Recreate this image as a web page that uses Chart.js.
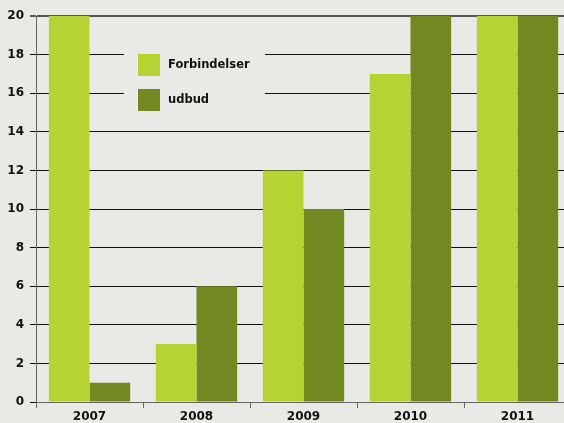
<!DOCTYPE html>
<html>
<head>
<meta charset="utf-8">
<script src="https://cdn.jsdelivr.net/npm/chart.js@4.4.0/dist/chart.umd.min.js"></script>
<style>
    html, body { margin: 0; padding: 0; background: #e9eae5; overflow: hidden; }
    #wrap { width: 571px; height: 423px; }
</style>
</head>
<body>
<div id="wrap"><canvas id="chart"></canvas></div>
<script>
const years = ['2007', '2008', '2009', '2010', '2011']
const forbindelser = [20, 3, 12, 17, 20]
const udbud = [1, 6, 10, 20, 20]
const yTicks = [0, 2, 4, 6, 8, 10, 12, 14, 16, 18, 20]

const bg = '#e9eae5'
const lightGreen = '#b6d334'
const darkGreen = '#728820'
const fontFamily = '"DejaVu Sans", "Liberation Sans", sans-serif'

// legend drawn inside the plot, on a patch of background that hides the grid
const insideLegend = {
    id: 'insideLegend',
    beforeDatasetsDraw(chart) {
        const ctx = chart.ctx
        const items = chart.data.datasets.map(ds => ({ text: ds.label, color: ds.backgroundColor }))
        const x = 124, y = 40
        ctx.save()
        ctx.fillStyle = bg
        ctx.fillRect(x, y, 141, 84)
        ctx.font = 'bold 11.5px ' + fontFamily
        ctx.textBaseline = 'middle'
        items.forEach((item, i) => {
            const top = y + 14 + i * 35
            ctx.fillStyle = item.color
            ctx.fillRect(x + 14, top, 22, 22)
            ctx.fillStyle = '#111'
            ctx.fillText(item.text, x + 44, top + 11)
        })
        ctx.restore()
    }
}

new Chart(document.getElementById('chart'), {
    type: 'bar',
    data: {
        labels: years,
        datasets: [{
            label: 'Forbindelser',
            data: forbindelser,
            backgroundColor: lightGreen,
            categoryPercentage: 0.76,
            barPercentage: 1.0
        }, {
            label: 'udbud',
            data: udbud,
            backgroundColor: darkGreen,
            categoryPercentage: 0.76,
            barPercentage: 1.0
        }]
    },
    plugins: [insideLegend],
    options: {
        responsive: true,
        maintainAspectRatio: false,
        animation: false,
        layout: { padding: { top: 16, left: 0, right: 0, bottom: 0 } },
        plugins: {
            legend: { display: false },
            tooltip: { enabled: false }
        },
        scales: {
            x: {
                grid: {
                    drawOnChartArea: false,
                    drawTicks: true,
                    tickLength: 6,
                    color: '#666'
                },
                border: { color: '#666', width: 1 },
                ticks: {
                    color: '#111',
                    padding: 2,
                    font: { family: fontFamily, size: 12, weight: 'bold' }
                },
                afterFit: scale => { scale.height = 21 }
            },
            y: {
                min: 0,
                max: 20,
                afterBuildTicks: scale => { scale.ticks = yTicks.map(v => ({ value: v })) },
                grid: {
                    color: ctx => ctx.tick && ctx.tick.value === 20 ? '#555' : '#111',
                    lineWidth: ctx => ctx.tick && ctx.tick.value === 20 ? 2 : 1,
                    tickLength: 6
                },
                border: { color: '#666', width: 1 },
                ticks: {
                    color: '#111',
                    padding: 6,
                    font: { family: fontFamily, size: 12, weight: 'bold' }
                },
                afterFit: scale => { scale.width = 36 }
            }
        }
    }
})
</script>
</body>
</html>
